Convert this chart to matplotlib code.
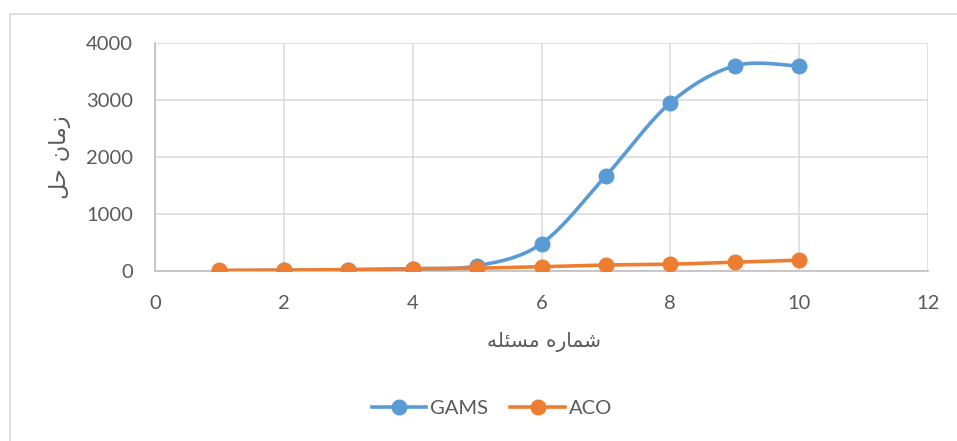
import numpy as np
import matplotlib
matplotlib.use("Agg")
import matplotlib.pyplot as plt
from matplotlib.patches import Rectangle

# problem number and solve time per method
problems = [1, 2, 3, 4, 5, 6, 7, 8, 9, 10]
gams_time = [5, 10, 20, 40, 90, 480, 1670, 2950, 3600, 3595]
aco_time = [10, 15, 25, 40, 50, 75, 105, 120, 155, 190]

x_ticks = [0, 2, 4, 6, 8, 10, 12]
y_ticks = [0, 1000, 2000, 3000, 4000]

# labels (Persian, written as shaped presentation forms in visual order)
y_label = "\ufede\ufea3 \ufee5\ufe8e\ufee3\ufeaf"            # زمان حل
x_label = "\ufeea\ufee0\ufe8c\ufeb4\ufee3 \ufee9\ufead\ufe8e\ufee4\ufeb7"  # شماره مسئله

BLUE = "#5B9BD5"
ORANGE = "#ED7D31"
TEXT = "#595959"


def smooth_line(xs, ys, steps=30):
    """Excel-like smoothed line: cubic Bezier segments with Catmull-Rom tangents."""
    p = np.column_stack([xs, ys]).astype(float)
    n = len(p)
    out = []
    for i in range(n - 1):
        p0 = p[i - 1] if i > 0 else p[i]
        p1 = p[i]
        p2 = p[i + 1]
        p3 = p[i + 2] if i + 2 < n else p[i + 1]
        c1 = p1 + (p2 - p0) / 6.0
        c2 = p2 - (p3 - p1) / 6.0
        t = np.linspace(0, 1, steps)[:, None]
        seg = ((1 - t) ** 3) * p1 + 3 * ((1 - t) ** 2) * t * c1 + 3 * (1 - t) * t ** 2 * c2 + t ** 3 * p2
        out.append(seg if i == 0 else seg[1:])
    out = np.vstack(out)
    return out[:, 0], out[:, 1]


fig = plt.figure(figsize=(9.57, 4.41), dpi=100)
ax = fig.add_axes([155 / 957, 1 - 271 / 441, (928 - 155) / 957, (271 - 43) / 441])

# chart area border
fig.patches.append(Rectangle((10 / 957, -0.05), 1.2, 1 - 14 / 441 + 0.05,
                             transform=fig.transFigure, fill=False,
                             edgecolor="#d9d9d9", linewidth=1.2))

for ys, color, name in [(gams_time, BLUE, "GAMS"), (aco_time, ORANGE, "ACO")]:
    sx, sy = smooth_line(problems, ys)
    ax.plot(sx, sy, color=color, linewidth=2.6, solid_capstyle="round", zorder=3)
    ax.plot(problems, ys, linestyle="none", marker="o", markersize=10.5,
            color=color, zorder=4)
    # legend proxy
    ax.plot([], [], color=color, linewidth=2.6, marker="o", markersize=10.5, label=name)

ax.set_xlim(0, 12)
ax.set_ylim(0, 4000)
ax.set_xticks(x_ticks)
ax.set_yticks(y_ticks)
ax.grid(True, color="#d9d9d9", linewidth=1.1)
ax.set_axisbelow(True)
for side in ["top", "right"]:
    ax.spines[side].set_visible(False)
for side in ["left", "bottom"]:
    ax.spines[side].set_color("#bfbfbf")
    ax.spines[side].set_linewidth(1.2)
ax.tick_params(length=0, labelsize=14.5, colors=TEXT)
ax.tick_params(axis="x", pad=17)
ax.tick_params(axis="y", pad=16)
for lbl in ax.get_xticklabels() + ax.get_yticklabels():
    lbl.set_family(["Lato", "DejaVu Sans"])

fig.text(60 / 957, 1 - 157 / 441, y_label, rotation=90, ha="center", va="center",
         fontsize=16, color=TEXT, family=["DejaVu Sans"])
fig.text(544 / 957, 1 - 342 / 441, x_label, ha="center", va="center",
         fontsize=14.5, color=TEXT, family=["DejaVu Sans"])

leg = fig.legend(loc="center", bbox_to_anchor=(492 / 957, 1 - 408 / 441), ncol=2,
                 frameon=False, fontsize=14.5, handlelength=2.7, columnspacing=1.1,
                 handletextpad=0.2)
for t in leg.get_texts():
    t.set_color(TEXT)
    t.set_family(["Lato", "DejaVu Sans"])

fig.savefig("out.png", dpi=100)
